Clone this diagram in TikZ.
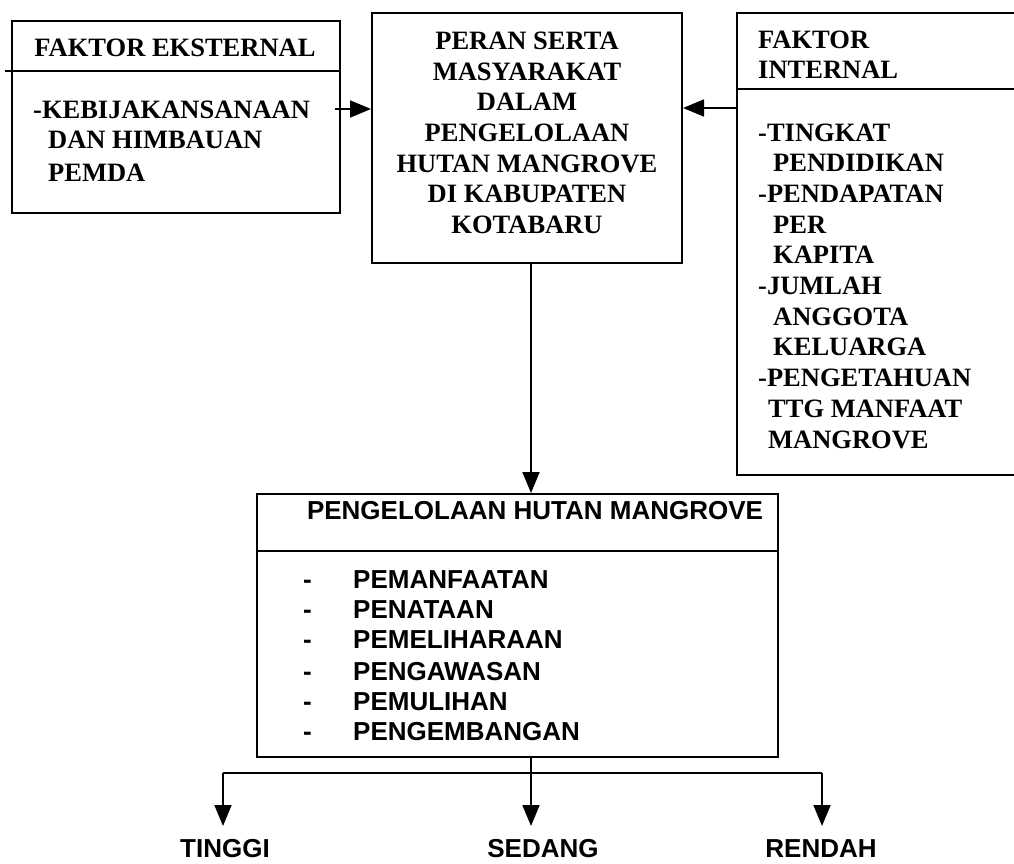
\documentclass[tikz,border=0pt]{standalone}
\usepackage{fontspec}
\setmainfont{Liberation Serif}
\newfontfamily\arialf{Liberation Sans}
\usetikzlibrary{arrows.meta}
\tikzset{
  boxst/.style={draw=black, line width=2pt, inner sep=0pt},
  conn/.style={draw=black, line width=1.8pt},
  arr/.style={conn, -{Triangle[length=21pt,width=17pt]}},
  tms/.style={inner sep=0pt, font=\fontsize{26.5}{31}\selectfont\bfseries},
  ari/.style={inner sep=0pt, font=\arialf\fontsize{26}{30}\selectfont\bfseries},
}
\begin{document}
\begin{tikzpicture}[x=1pt,y=-1pt]
\useasboundingbox (0,0) rectangle (1014,864);
% boxes
\node[boxst, minimum width=328pt, minimum height=192pt] (ext) at (176,117) {};
\node[boxst, minimum width=310pt, minimum height=250pt] (mid) at (527,138) {};
\node[boxst, minimum width=300pt, minimum height=462pt] (int) at (887,244) {};
\node[boxst, minimum width=521pt, minimum height=263pt] (bot) at (517.5,625.5) {};
% dividers
\coordinate (d1) at (0,71);
\coordinate (d2) at (0,89);
\coordinate (d3) at (0,551);
\draw[conn] ([xshift=-6pt]ext.west |- d1) -- (ext.east |- d1);
\draw[conn] (int.west |- d2) -- (1014,89);
\draw[conn] (bot.west |- d3) -- (bot.east |- d3);
% texts: external
\node[tms, anchor=base] (extT) at (175,57) {FAKTOR EKSTERNAL};
\node[tms, anchor=base west] (e1) at (33,118) {-KEBIJAKANSANAAN};
\node[tms, anchor=base west] (e2) at (48,148) {DAN HIMBAUAN};
\node[tms, anchor=base west] (e3) at (48,181) {PEMDA};
% texts: middle
\foreach \t [count=\i from 0] in {PERAN SERTA,MASYARAKAT,DALAM,PENGELOLAAN,HUTAN MANGROVE,DI KABUPATEN,KOTABARU}
  \node[tms, anchor=base] (m\i) at (527,50+30.5*\i) {\t};
% texts: internal
\node[tms, anchor=base west] (iT1) at (758,49) {FAKTOR};
\node[tms, anchor=base west] (iT2) at (758,79) {INTERNAL};
\foreach \t/\x [count=\i from 0] in {-TINGKAT/758,PENDIDIKAN/773,-PENDAPATAN/758,PER/773,KAPITA/773,-JUMLAH/758,ANGGOTA/773,KELUARGA/773,-PENGETAHUAN/758,TTG MANFAAT/768,MANGROVE/768}
  \node[tms, anchor=base west] (i\i) at (\x,141+30.7*\i) {\t};
% texts: bottom box
\node[ari, anchor=base] (bT) at (535,519) {PENGELOLAAN HUTAN MANGROVE};
\foreach \t/\y [count=\i from 0] in {PEMANFAATAN/588,PENATAAN/618,PEMELIHARAAN/648,PENGAWASAN/680,PEMULIHAN/710,PENGEMBANGAN/740}{
  \node[ari, anchor=base west] (bd\i) at (303,\y) {-};
  \node[ari, anchor=base west] (b\i) at (353,\y) {\t};
}
% result labels
\node[ari, anchor=base] (tinggi) at (225,857) {TINGGI};
\node[ari, anchor=base] (sedang) at (543,857) {SEDANG};
\node[ari, anchor=base] (rendah) at (821,857) {RENDAH};
% connectors
\coordinate (a1) at (0,109);
\coordinate (a2) at (0,108);
\coordinate (c1) at (531,0);
\draw[arr] ([xshift=-6pt]ext.east |- a1) -- (mid.west |- a1);
\draw[arr] (int.west |- a2) -- (mid.east |- a2);
\draw[arr] (mid.south -| c1) -- (bot.north -| c1);
\coordinate (t1) at (223,826);
\coordinate (t2) at (531,826);
\coordinate (t3) at (822,826);
\coordinate (br) at (531,773);
\draw[conn] (br -| t1) -- (br -| t3);
\draw[arr] (br -| t1) -- (t1);
\draw[arr] (bot.south -| c1) -- (t2);
\draw[arr] (br -| t3) -- (t3);
\end{tikzpicture}
\end{document}
